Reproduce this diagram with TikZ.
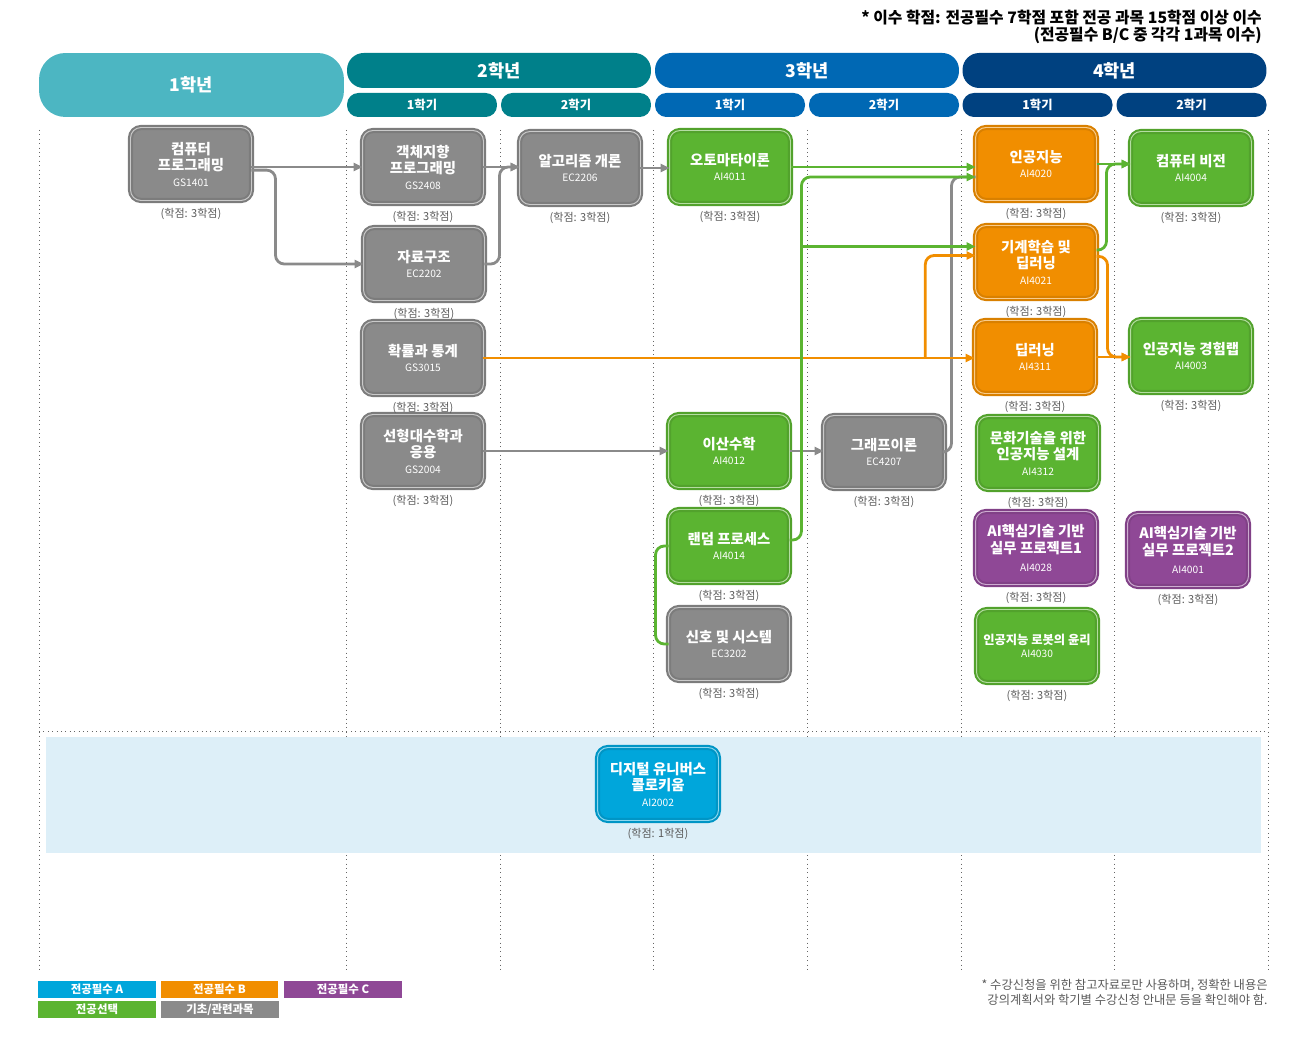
\documentclass[tikz,border=0pt]{standalone}
\usepackage{fontspec}
\setmainfont{Noto Sans CJK KR}
\usepackage{tikz}
\usetikzlibrary{arrows.meta, positioning, calc}

\definecolor{cgray}{HTML}{8A8A8A}
\definecolor{cgreen}{HTML}{5BB431}
\definecolor{corange}{HTML}{F18E00}
\definecolor{cpurple}{HTML}{8F4896}
\definecolor{cblue}{HTML}{00A6DB}
\definecolor{hy1}{HTML}{4CB6C2}
\definecolor{hy2}{HTML}{00808A}
\definecolor{hy3}{HTML}{0068B4}
\definecolor{hy4}{HTML}{004180}
\definecolor{bandblue}{HTML}{DDEFF8}
\definecolor{credgray}{HTML}{5A5A5A}

\newcommand{\crscode}[1]{\\[-1pt]{\mdseries\fontsize{5.8}{6.5}\selectfont #1}}

\tikzset{
  course/.style={rounded corners=6pt, outer sep=0pt, minimum width=2.42cm,
    minimum height=1.46cm, inner sep=1pt, align=center, text=white,
    line width=1.2pt, double distance=0.55pt,
    font=\bfseries\fontsize{8.2}{9.6}\selectfont},
  crs/.style={course, fill=#1, draw=#1!90!black, double=#1!45!white},
  credit/.style={font=\fontsize{6.3}{7}\selectfont, text=credgray, inner sep=0pt},
  yearbar/.style={text=white, inner sep=0pt, minimum width=6.08cm,
    minimum height=0.7cm, rounded corners=9.5pt,
    font=\bfseries\fontsize{10}{12}\selectfont},
  sembar/.style={text=white, inner sep=0pt, minimum width=3cm,
    minimum height=0.48cm, rounded corners=6.5pt,
    font=\bfseries\fontsize{7}{8}\selectfont},
  legbox/.style={fill=#1, text=white, inner sep=0pt, minimum width=2.36cm,
    minimum height=0.34cm, font=\bfseries\fontsize{6.5}{7}\selectfont},
  grid/.style={dotted, line width=0.5pt, black!60},
  link/.style={line width=1.6pt, rounded corners=5pt},
  arr/.style={-{Triangle[length=5pt,width=4.5pt]}},
}

\begin{document}
\begin{tikzpicture}[x={(0.02cm,0)}, y={(0,-0.02cm)}]
  \useasboundingbox (0,0) rectangle (1300,1040);

  % note on top
  \node[anchor=north east, align=right, inner sep=0pt,
        font=\bfseries\fontsize{9}{9.8}\selectfont] (note) at (1262,10)
       {* 이수 학점: 전공필수 7학점 포함 전공 과목 15학점 이상 이수\\(전공필수 B/C 중 각각 1과목 이수)};

  % year and semester bars
  \node[yearbar, fill=hy1, minimum width=6.1cm, minimum height=1.28cm,
        rounded corners=15pt] (y1) at (191.5,85) {1학년};
  \foreach \yr/\cx/\col in {2/499/hy2, 3/807/hy3, 4/1114.5/hy4} {
    \node[yearbar, fill=\col] (y\yr) at (\cx,70.5) {\yr{}학년};
    \node[sembar, fill=\col] (y\yr-s1) at (\cx-77,105) {1학기};
    \node[sembar, fill=\col] (y\yr-s2) at (\cx+77,105) {2학기};
  }

  % column grid
  \foreach \x in {39,346,500,653,807,961,1114,1268}
    \draw[grid] (\x,130) -- (\x,970);
  \draw[grid] (39,731) -- (1268,731);
  \fill[bandblue] (46,737) rectangle (1261,853);

  % courses
  \node[crs=cgray] (cp) at (191,164) {컴퓨터\\프로그래밍\crscode{GS1401}};
  \node[crs=cgray] (oop) at (423,167) {객체지향\\프로그래밍\crscode{GS2408}};
  \node[crs=cgray] (ds) at (424,264) {자료구조\crscode{EC2202}};
  \node[crs=cgray] (ps) at (423,358) {확률과 통계\crscode{GS3015}};
  \node[crs=cgray] (la) at (423,451) {선형대수학과\\응용\crscode{GS2004}};
  \node[crs=cgray] (alg) at (580,168) {알고리즘 개론\crscode{EC2206}};
  \node[crs=cgreen] (aut) at (730,167) {오토마타이론\crscode{AI4011}};
  \node[crs=cgreen] (dm) at (729,451) {이산수학\crscode{AI4012}};
  \node[crs=cgreen] (rp) at (729,546) {랜덤 프로세스\crscode{AI4014}};
  \node[crs=cgray] (ss) at (729,644) {신호 및 시스템\crscode{EC3202}};
  \node[crs=cgray] (gt) at (884,452) {그래프이론\crscode{EC4207}};
  \node[crs=corange] (ai) at (1036,164) {인공지능\crscode{AI4020}};
  \node[crs=corange] (ml) at (1036,262) {기계학습 및\\딥러닝\crscode{AI4021}};
  \node[crs=corange] (dl) at (1035,357) {딥러닝\crscode{AI4311}};
  \node[crs=cgreen] (cai) at (1038,453) {문화기술을 위한\\인공지능 설계\crscode{AI4312}};
  \node[crs=cpurple] (pj1) at (1036,548) {AI핵심기술 기반\\실무 프로젝트1\\[1pt]{\mdseries\fontsize{5.8}{6.5}\selectfont AI4028}};
  \node[crs=cgreen, font=\bfseries\fontsize{7}{8}\selectfont] (eth) at (1037,646) {인공지능 로봇의 윤리\crscode{AI4030}};
  \node[crs=cgreen] (cv) at (1191,168) {컴퓨터 비전\crscode{AI4004}};
  \node[crs=cgreen] (lab) at (1191,356) {인공지능 경험랩\crscode{AI4003}};
  \node[crs=cpurple] (pj2) at (1188,550) {AI핵심기술 기반\\실무 프로젝트2\\[1pt]{\mdseries\fontsize{5.8}{6.5}\selectfont AI4001}};
  \node[crs=cblue] (dgu) at (658,784) {디지털 유니버스\\콜로키움\crscode{AI2002}};

  \foreach \n in {cp,oop,ds,ps,la,alg,aut,dm,rp,ss,gt,ai,ml,dl,cai,pj1,eth,cv,lab,pj2}
    \node[credit, below=4pt of \n] (\n-cr) {(학점: 3학점)};
  \node[credit, below=4pt of dgu] (dgu-cr) {(학점: 1학점)};

  % junction points
  \coordinate (ai-lo) at ([yshift=-7.4pt]ai.west);
  \coordinate (ml-g) at ([yshift=8.8pt]ml.west);
  \coordinate (ml-o) at ([yshift=3.7pt]ml.west);
  \coordinate (gbus) at ([xshift=6.8pt]rp.east);
  \coordinate (obus) at ([xshift=-28pt]dl.west);
  \coordinate (lab-in) at (dl.east -| lab.west);
  \coordinate (cv-in) at (ai.east -| cv.west);

  % gray links
  \draw[link, arr, cgray] (cp.east |- oop.west) -- (oop.west);
  \draw[link, arr, cgray] ([yshift=-3.5pt]cp.east) -- ++(24,0) |- (ds.west);
  \draw[link, arr, cgray] (oop.east) -- (oop.east -| alg.west);
  \draw[link, arr, cgray] (ds.east) -- ++(15,0) |- (oop.east -| alg.west);
  \draw[link, arr, cgray] (alg.east) -- (alg.east -| aut.west);
  \draw[link, arr, cgray] (la.east) -- (la.east -| dm.west);
  \draw[link, arr, cgray] (dm.east) -- (dm.east -| gt.west);
  \draw[link, cgray] (gt.east) -- ++(7,0) |- (ai-lo);

  % orange links
  \draw[link, arr, corange] (ps.east) -- (ps.east -| dl.west);
  \draw[link, arr, corange] (obus |- ps.east) |- (ml-o);
  \draw[link, arr, corange] (dl.east) -- (lab-in);
  \draw[link, arr, corange] ([yshift=3.2pt]ml.east) -- ++(11,0) |- (lab-in);

  % green links
  \draw[link, arr, cgreen] (aut.east) -- (aut.east -| ai.west);
  \draw[link, arr, cgreen] ([yshift=3.4pt]rp.east) -| (gbus |- ai-lo) -- (ai-lo);
  \draw[link, arr, cgreen] (gbus |- ml-g) -- (ml-g);
  \draw[link, cgreen] (rp.west) -- ++(-13,0) |- (ss.west);
  \draw[link, arr, cgreen] (ai.east) -- (cv-in);
  \draw[link, arr, cgreen] ([yshift=6.8pt]ml.east) -- ++(10,0) |- (cv-in);

  % legend
  \node[legbox=cblue] (lg-a) at (97,989.5) {전공필수 A};
  \node[legbox=corange] (lg-b) at (219.5,989.5) {전공필수 B};
  \node[legbox=cpurple] (lg-c) at (343,989.5) {전공필수 C};
  \node[legbox=cgreen] (lg-e) at (97,1009.5) {전공선택};
  \node[legbox=cgray] (lg-g) at (220,1009.5) {기초/관련과목};

  % disclaimer
  \node[anchor=south east, align=right, inner sep=0pt, text=credgray,
        font=\fontsize{7}{8.5}\selectfont] (disc) at (1268,1006)
       {* 수강신청을 위한 참고자료로만 사용하며, 정확한 내용은\\강의계획서와 학기별 수강신청 안내문 등을 확인해야 함.};
\end{tikzpicture}
\end{document}
